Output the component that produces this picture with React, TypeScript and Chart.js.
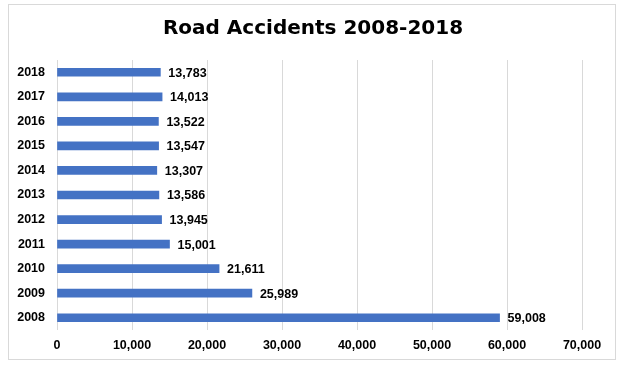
import React, { useEffect, useRef } from "react";
import { Chart, registerables } from "chart.js";

Chart.register(...registerables);

const years = ["2008", "2009", "2010", "2011", "2012", "2013", "2014", "2015", "2016", "2017", "2018"];
const accidents = [59008, 25989, 21611, 15001, 13945, 13586, 13307, 13547, 13522, 14013, 13783];
const titleText = "Road Accidents 2008-2018";
const xMax = 70000;
const xStep = 10000;

const LABEL_FONT = 'bold 12.5px "Liberation Sans", Arial, sans-serif';

const decorPlugin = {
  id: "decor",
  beforeDraw(chart: any) {
    const ctx = chart.ctx;
    ctx.save();
    ctx.fillStyle = "#ffffff";
    ctx.fillRect(0, 0, chart.width, chart.height);
    ctx.strokeStyle = "#d9d9d9";
    ctx.lineWidth = 1;
    ctx.strokeRect(8.5, 4.5, 607, 355);
    ctx.fillStyle = "#000000";
    ctx.font = 'bold 20px "DejaVu Sans", Verdana, sans-serif';
    ctx.textAlign = "center";
    ctx.textBaseline = "middle";
    ctx.fillText(titleText, 313, 29);
    ctx.restore();
  },
  afterDatasetsDraw(chart: any) {
    const ctx = chart.ctx;
    const meta = chart.getDatasetMeta(0);
    ctx.save();
    ctx.fillStyle = "#000000";
    ctx.font = LABEL_FONT;
    ctx.textAlign = "left";
    ctx.textBaseline = "middle";
    meta.data.forEach((bar: any, i: number) => {
      const v = chart.data.datasets[0].data[i] as number;
      ctx.fillText(v.toLocaleString("en-US"), bar.x + 8, bar.y + 1);
    });
    ctx.restore();
  },
};

export default function App() {
  const ref = useRef<HTMLCanvasElement | null>(null);
  useEffect(() => {
    if (!ref.current) return;
    const chart = new Chart(ref.current, {
      type: "bar",
      data: {
        labels: years,
        datasets: [
          {
            data: accidents,
            backgroundColor: "#4472C4",
            borderWidth: 0,
            barThickness: 8,
          },
        ],
      },
      options: {
        indexAxis: "y",
        responsive: false,
        animation: false,
        devicePixelRatio: 1,
        layout: { padding: { top: 60, right: 41, bottom: 0, left: 0 } },
        plugins: {
          legend: { display: false },
          title: { display: false },
          tooltip: { enabled: false },
        },
        scales: {
          x: {
            min: 0,
            max: xMax,
            ticks: {
              stepSize: xStep,
              padding: 8,
              color: "#000000",
              font: { family: '"Liberation Sans", Arial, sans-serif', size: 12.5, weight: "bold" },
              callback: (v: any) => Number(v).toLocaleString("en-US"),
            },
            grid: { color: "#d9d9d9", drawTicks: false, lineWidth: 1 },
            border: { display: false },
            afterFit: (s: any) => {
              s.height = 36;
            },
          },
          y: {
            reverse: true,
            ticks: {
              padding: 12,
              color: "#000000",
              font: { family: '"Liberation Sans", Arial, sans-serif', size: 12.5, weight: "bold" },
            },
            grid: { display: false, drawTicks: false },
            border: { display: false },
            afterFit: (s: any) => {
              s.width = 57;
            },
          },
        },
      },
      plugins: [decorPlugin],
    });
    return () => chart.destroy();
  }, []);
  return (
    <div style={{ position: "absolute", left: 0, top: 0, width: 623, height: 366 }}>
      <canvas ref={ref} width={623} height={366} style={{ width: 623, height: 366, display: "block" }} />
    </div>
  );
}
